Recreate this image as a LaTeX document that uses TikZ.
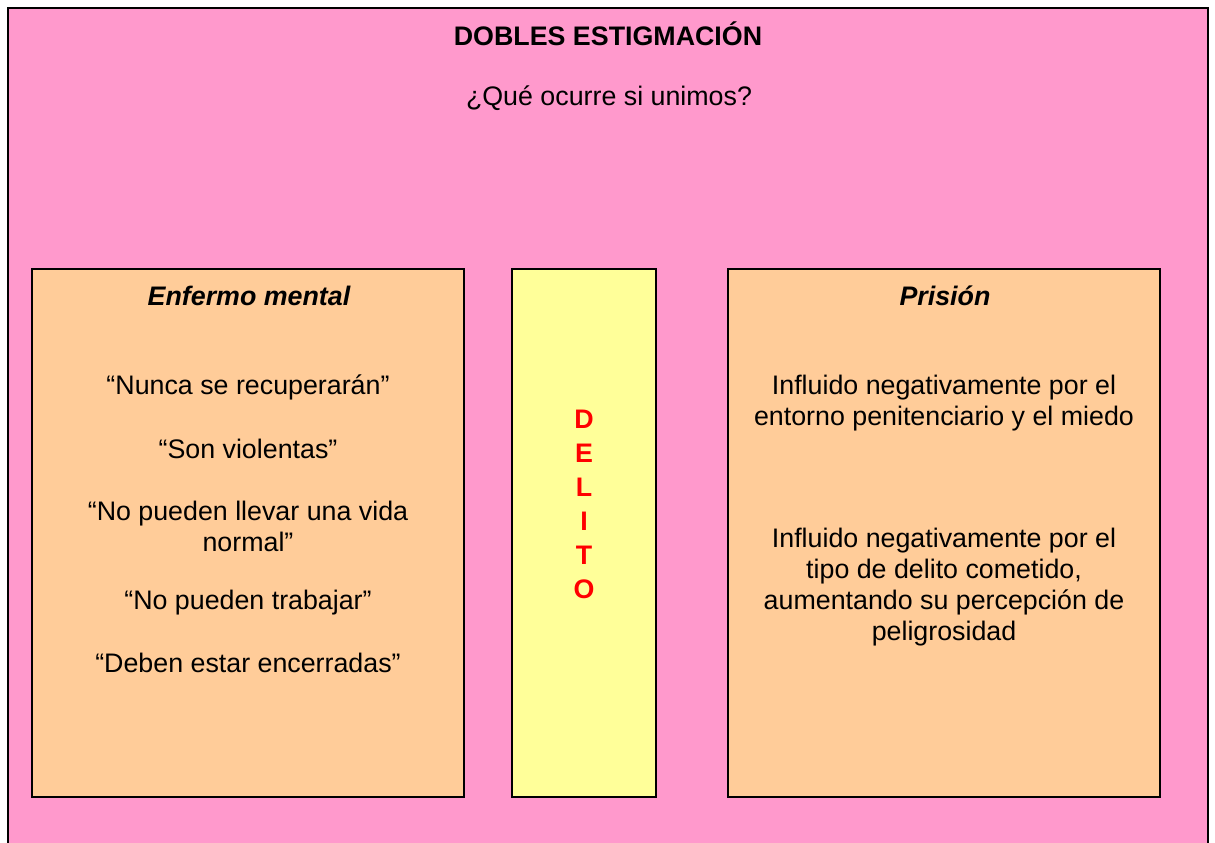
\documentclass[tikz,border=0pt]{standalone}
\usepackage{fontspec}
\setmainfont{Liberation Sans}
\definecolor{bgpink}{HTML}{FF99CC}
\definecolor{boxorange}{HTML}{FFCC99}
\definecolor{boxyellow}{HTML}{FFFF99}
\definecolor{delred}{HTML}{FF0000}
\tikzset{
  panel/.style={draw=black, line width=2pt},
  txt/.style={font=\fontsize{26.8}{31}\selectfont, align=center, inner sep=0pt},
  head/.style={font=\fontsize{26.8}{31}\selectfont\bfseries\itshape, inner sep=0pt},
}
\begin{document}
\begin{tikzpicture}[x=1pt,y=-1pt]
\useasboundingbox (0,0) rectangle (1215,843);
\fill[white] (0,0) rectangle (1215,843);
\draw[panel, fill=bgpink] (8,8) rectangle (1208,860);
\node[font=\fontsize{26.8}{31}\selectfont\bfseries, inner sep=0pt] (title) at (608,34) {DOBLES ESTIGMACIÓN};
\node[txt] (sub) at (609,98) {¿Qué ocurre si unimos?};

\draw[panel, fill=boxorange] (32,269) rectangle (464,797);
\draw[panel, fill=boxyellow] (512,269) rectangle (656,797);
\draw[panel, fill=boxorange] (728,269) rectangle (1160,797);

\node[head] (lh) at (249,296) {Enfermo mental};
\node[txt] (l1) at (248,387) {“Nunca se recuperarán”};
\node[txt] (l2) at (248,449) {“Son violentas”};
\node[txt] (l3) at (248,526) {“No pueden llevar una vida\\normal”};
\node[txt] (l4) at (248,603) {“No pueden trabajar”};
\node[txt] (l5) at (248,663) {“Deben estar encerradas”};

\node[font=\fontsize{26.8}{34}\selectfont\bfseries, text=delred, align=center, inner sep=0pt] (del) at (584,504) {D\\E\\L\\I\\T\\O};

\node[head] (rh) at (945,296) {Prisión};
\node[txt] (r1) at (944,403) {Influido negativamente por el\\entorno penitenciario y el miedo};
\node[txt] (r2) at (944,587) {Influido negativamente por el\\tipo de delito cometido,\\aumentando su percepción de\\peligrosidad};
\end{tikzpicture}
\end{document}
